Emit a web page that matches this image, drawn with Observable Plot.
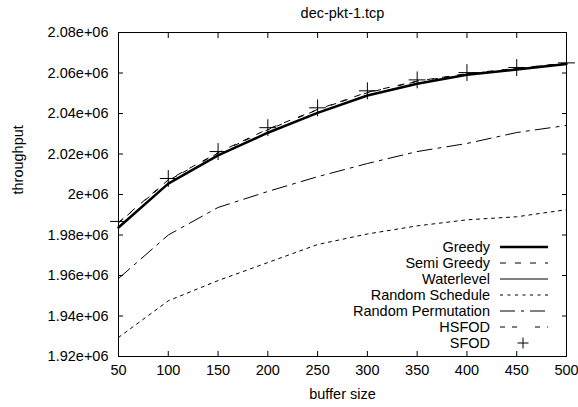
<!DOCTYPE html>
<html>
<head>
<meta charset="utf-8">
<script src="https://cdn.jsdelivr.net/npm/d3@7"></script>
<script src="https://cdn.jsdelivr.net/npm/@observablehq/plot@0.6"></script>
<style>
  html, body { margin: 0; padding: 0; background: #fff; }
  #wrap { position: relative; width: 578px; height: 407px; }
  #wrap svg.legend { position: absolute; left: 0; top: 0; pointer-events: none; }
</style>
</head>
<body>
<div id="wrap"></div>
<script>
const title = "dec-pkt-1.tcp";
const xLabel = "buffer size";
const yLabel = "throughput";

const bufferSize = [50, 100, 150, 200, 250, 300, 350, 400, 450, 500];

const greedy            = [1983700, 2005400, 2019300, 2030500, 2040300, 2048900, 2054700, 2059100, 2061700, 2064500];
const semiGreedy        = [1986200, 2007200, 2020700, 2032300, 2042000, 2050500, 2056000, 2059700, 2062300, 2064900];
const waterlevel        = [1983900, 2005500, 2019400, 2030600, 2040400, 2049000, 2054800, 2059200, 2061800, 2064600];
const randomSchedule    = [1929400, 1947500, 1957500, 1966400, 1975300, 1980500, 1984500, 1987500, 1989000, 1992500];
const randomPermutation = [1958500, 1980000, 1993600, 2001500, 2008800, 2015300, 2021200, 2025200, 2030600, 2034100];
const hsfod             = [1986000, 2006900, 2020400, 2032000, 2041800, 2050300, 2055800, 2059500, 2062200, 2064800];
const sfod              = [1986700, 2007900, 2021200, 2033000, 2042800, 2051200, 2056600, 2060200, 2062700, 2065000];

const xTicks = [50, 100, 150, 200, 250, 300, 350, 400, 450, 500];
const yTicks = [1920000, 1940000, 1960000, 1980000, 2000000, 2020000, 2040000, 2060000, 2080000];
const yTickLabels = ["1.92e+06", "1.94e+06", "1.96e+06", "1.98e+06", "2e+06", "2.02e+06", "2.04e+06", "2.06e+06", "2.08e+06"];

const seriesNames = ["Greedy", "Semi Greedy", "Waterlevel", "Random Schedule", "Random Permutation", "HSFOD", "SFOD"];

// styles (not data)
const styles = {
  "Greedy":             {width: 2.5, dash: null, color: "#000"},
  "Semi Greedy":        {width: 1, dash: "6,9", color: "#000"},
  "Waterlevel":         {width: 1, dash: null, color: "#000"},
  "Random Schedule":    {width: 1, dash: "3,4.5", color: "#000"},
  "Random Permutation": {width: 1, dash: "15,6,3,6", color: "#000"},
  "HSFOD":              {width: 1, dash: "5,7,5,18", color: "#000"}
};

const toRows = (vals) => bufferSize.map((x, i) => ({x, y: vals[i]}));
const lineSeries = {
  "Greedy": greedy,
  "Semi Greedy": semiGreedy,
  "Waterlevel": waterlevel,
  "Random Schedule": randomSchedule,
  "Random Permutation": randomPermutation,
  "HSFOD": hsfod
};

const font = "'Liberation Sans', Arial, Helvetica, sans-serif";
const fs = 14.5;

const lineMarks = Object.entries(lineSeries).reverse().map(([name, vals]) =>
  Plot.line(toRows(vals), {
    x: "x", y: "y",
    stroke: styles[name].color,
    strokeWidth: styles[name].width,
    strokeDasharray: styles[name].dash,
    strokeLinejoin: "miter",
    curve: "linear"
  })
);

const chart = Plot.plot({
  width: 578,
  height: 407,
  marginLeft: 118,
  marginRight: 12,
  marginTop: 32,
  marginBottom: 51,
  style: {fontFamily: font, fontSize: fs + "px", background: "#fff", color: "#000"},
  x: {domain: [50, 500], ticks: xTicks},
  y: {domain: [1920000, 2080000], ticks: yTicks},
  marks: [
    ...lineMarks,
    Plot.dot(toRows(sfod), {x: "x", y: "y", symbol: "plus", r: 5.5, stroke: "#000", strokeWidth: 1}),
    Plot.frame({stroke: "#000", strokeWidth: 1}),
    Plot.axisX(xTicks, {anchor: "bottom", tickSize: -5, tickPadding: 5 + 8, fontSize: fs, label: null, tickFormat: d => String(d)}),
    Plot.axisX(xTicks, {anchor: "top", tickSize: -5, tickFormat: () => "", label: null}),
    Plot.axisY(yTicks, {anchor: "left", tickSize: -5, tickPadding: 5 + 10, fontSize: fs, label: null,
      tickFormat: d => yTickLabels[yTicks.indexOf(d)]}),
    Plot.axisY(yTicks, {anchor: "right", tickSize: -5, tickFormat: () => "", label: null}),
    Plot.text([title], {frameAnchor: "top", dy: -19, lineAnchor: "middle", fontSize: fs}),
    Plot.text([xLabel], {frameAnchor: "bottom", dy: 38, lineAnchor: "middle", fontSize: fs}),
    Plot.text([yLabel], {frameAnchor: "left", dx: -100, rotate: -90, lineAnchor: "middle", fontSize: fs})
  ]
});

const wrap = document.getElementById("wrap");
wrap.appendChild(chart);

// Legend overlay (inside plot, bottom right)
const leg = d3.select(wrap).append("svg")
  .attr("class", "legend")
  .attr("width", 578).attr("height", 407)
  .style("font-family", font).style("font-size", fs + "px");

const legTextX = 490, legLineX0 = 500, legLineX1 = 548, legY0 = 247, legStep = 16;
seriesNames.forEach((name, i) => {
  const y = legY0 + i * legStep;
  leg.append("text")
    .attr("x", legTextX).attr("y", y)
    .attr("text-anchor", "end").attr("dy", "0.35em")
    .attr("fill", "#000")
    .text(name);
  if (name === "SFOD") {
    const cx = (legLineX0 + legLineX1) / 2 - 1, r = 5.5;
    leg.append("path")
      .attr("d", `M${cx - r},${y}H${cx + r}M${cx},${y - r}V${y + r}`)
      .attr("stroke", "#000").attr("stroke-width", 1).attr("fill", "none");
  } else {
    const s = styles[name];
    leg.append("line")
      .attr("x1", legLineX0).attr("x2", legLineX1)
      .attr("y1", y).attr("y2", y)
      .attr("stroke", s.color).attr("stroke-width", s.width)
      .attr("stroke-dasharray", s.dash);
  }
});
</script>
</body>
</html>
